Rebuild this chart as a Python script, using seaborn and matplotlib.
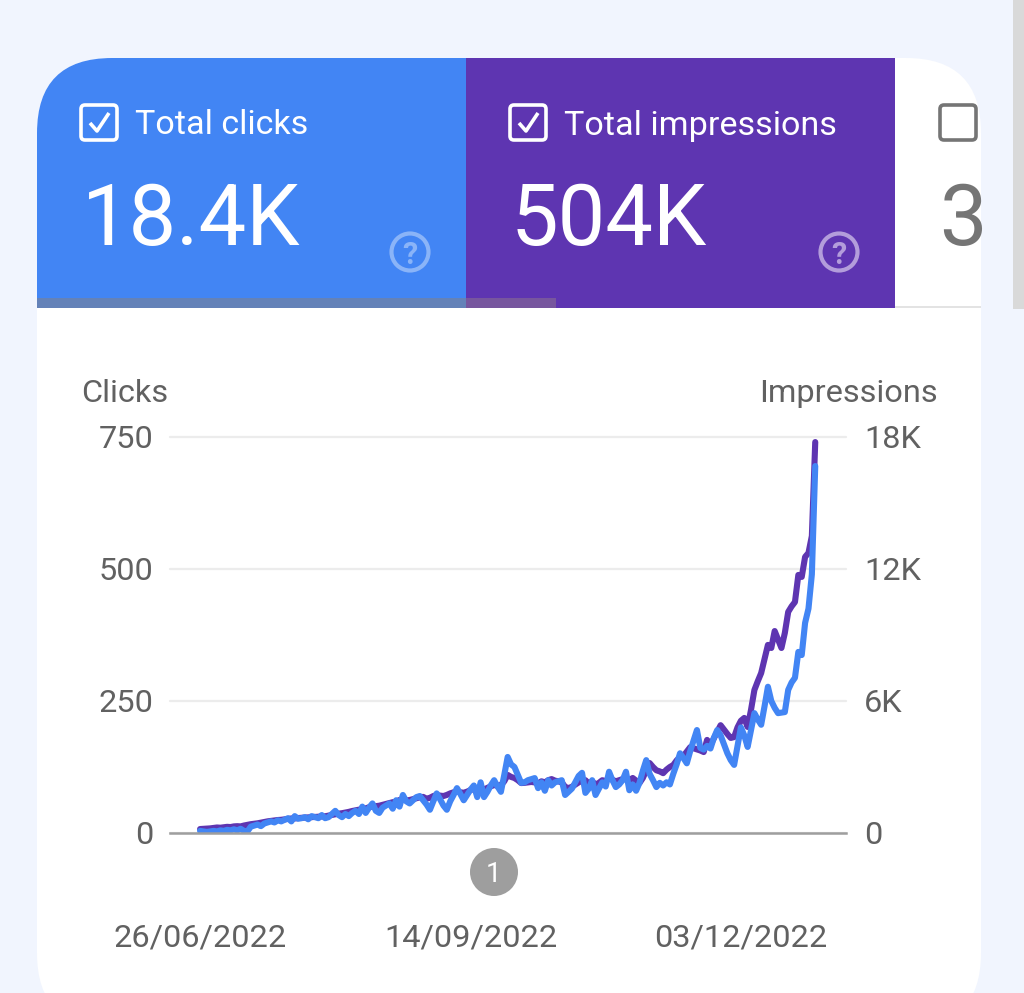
import pandas as pd
import seaborn as sns
import matplotlib.pyplot as plt
import matplotlib.dates as mdates
from matplotlib.patches import Rectangle, FancyBboxPatch, Circle

clicks = [
    4, 3, 2, 3, 4, 3, 5, 4, 6, 5,
    7, 5, 8, 4, 3, 12, 14, 16, 13, 18,
    20, 22, 20, 24, 22, 25, 28, 22, 32, 27,
    28, 30, 26, 32, 30, 28, 34, 28, 30, 36,
    42, 34, 30, 36, 32, 38, 42, 36, 50, 38,
    48, 56, 42, 38, 48, 52, 56, 46, 62, 50,
    72, 60, 56, 62, 68, 70, 62, 54, 44, 60,
    75, 64, 52, 44, 60, 72, 85, 74, 62, 72,
    82, 90, 68, 96, 68, 78, 90, 100, 88, 78,
    110, 144, 130, 125, 110, 95, 96, 100, 102, 104,
    85, 96, 80, 100, 90, 96, 98, 100, 72, 78,
    84, 96, 108, 114, 76, 84, 100, 72, 84, 96,
    88, 116, 100, 87, 92, 100, 116, 81, 92, 80,
    95, 118, 138, 112, 100, 87, 95, 90, 96, 92,
    112, 130, 151, 142, 132, 155, 175, 195, 161, 158,
    165, 160, 180, 195, 185, 168, 151, 138, 129, 165,
    200, 185, 163, 195, 227, 215, 205, 240, 277, 250,
    237, 227, 228, 229, 271, 285, 294, 343, 337, 398,
    425, 490, 695,
]
impressions = [
    180, 190, 200, 210, 230, 250, 240, 260, 280, 270,
    300, 310, 300, 340, 370, 400, 420, 440, 470, 500,
    530, 550, 570, 590, 600, 620, 640, 660, 660, 680,
    690, 700, 710, 720, 730, 740, 750, 760, 790, 820,
    850, 880, 900, 930, 960, 1000, 1030, 1060, 1090, 1120,
    1170, 1210, 1220, 1240, 1280, 1320, 1360, 1400, 1420, 1500,
    1520, 1480, 1500, 1540, 1580, 1620, 1640, 1560, 1600, 1680,
    1720, 1700, 1680, 1730, 1800, 1850, 1900, 1850, 1830, 1880,
    1950, 2000, 1920, 2080, 1980, 2050, 2120, 2180, 2150, 2180,
    2350, 2640, 2550, 2500, 2400, 2270, 2280, 2300, 2320, 2300,
    2250, 2350, 2300, 2400, 2450, 2380, 2350, 2300, 2100, 2040,
    2100, 2200, 2300, 2380, 2400, 2250, 2350, 2200, 2280, 2400,
    2350, 2500, 2420, 2350, 2400, 2450, 2520, 2400, 2500, 2380,
    2270, 2500, 2850, 3180, 3000, 2850, 2800, 2720, 2880, 3000,
    3090, 3300, 3450, 3500, 3700, 3900, 3850, 3800, 3750, 3680,
    4230, 4000, 4300, 4600, 4900, 4700, 4500, 4320, 4360, 4800,
    5100, 5230, 4820, 5600, 6500, 6900, 7270, 7900, 8550, 8410,
    9180, 8800, 8410, 9090, 10050, 10300, 10500, 11730, 11640, 12550,
    12730, 13500, 17770,
]
date_ticks = ["2022-06-26", "2022-09-14", "2022-12-03"]
click_ticks = [0, 250, 500, 750]
impression_ticks = [0, 6000, 12000, 18000]
impression_labels = ["0", "6K", "12K", "18K"]

BLUE = "#4285f4"
PURPLE = "#5e35b1"
GREY = "#616161"

sns.set_theme(style="white")
plt.rcParams["font.family"] = ["Roboto", "DejaVu Sans"]

df = pd.DataFrame({
    "date": pd.date_range("2022-06-26", periods=len(clicks), freq="D"),
    "clicks": clicks,
    "impressions": impressions,
})

fig = plt.figure(figsize=(10.24, 9.93), dpi=100, facecolor="#f1f5fe")

# page furniture, in pixel coordinates
bg = fig.add_axes([0, 0, 1, 1])
bg.set_xlim(0, 1024)
bg.set_ylim(993, 0)
bg.axis("off")

card = FancyBboxPatch((37, 58), 944, 970, boxstyle="round,pad=0,rounding_size=75",
                      fc="white", ec="none")
bg.add_patch(card)
bg.add_patch(Rectangle((1013, 0), 11, 309, fc="#d9d9d9", ec="none"))

for x, w, h, y, col in [
    (37, 429, 250, 58, BLUE),
    (466, 429, 250, 58, PURPLE),
    (37, 429, 10, 298, "#6482b8"),
    (466, 90, 10, 298, "#77569e"),
    (895, 86, 2, 306, "#e3e3e3"),
]:
    r = Rectangle((x, y), w, h, fc=col, ec="none")
    bg.add_patch(r)
    r.set_clip_path(card)


def checkbox(x, col, checked=True):
    bg.add_patch(FancyBboxPatch((x, 105), 36, 35, boxstyle="round,pad=0,rounding_size=4",
                                fc="none", ec=col, lw=2.6))
    if checked:
        bg.plot([x + 9, x + 16, x + 28], [123, 131, 113], color=col, lw=2.6,
                solid_capstyle="butt")


checkbox(81, "white")
checkbox(510, "white")
checkbox(940, "#757575", checked=False)

bg.text(135, 122, "Total clicks", color="white", fontsize=24.6, va="center_baseline")
bg.text(564, 122, "Total impressions", color="white", fontsize=24.6, va="center_baseline")
bg.text(82, 245, "18.4K", color="white", fontsize=61, va="baseline")
bg.text(511, 245, "504K", color="white", fontsize=61, va="baseline")
third = bg.text(939, 245, "3", color="#757575", fontsize=61, va="baseline")
third.set_clip_path(card)

for cx, col in [(410, "#8ab4f8"), (839, "#b39ddb")]:
    bg.add_patch(Circle((cx, 252), 18.5, fc="none", ec=col, lw=3))
    bg.text(cx, 252, "?", color=col, fontsize=22, fontweight="bold", ha="center",
            va="center_baseline")

bg.text(81, 390, "Clicks", color=GREY, fontsize=23.4, va="center_baseline")
bg.text(938, 390, "Impressions", color=GREY, fontsize=23.4, ha="right", va="center_baseline")

bg.add_patch(Circle((494, 872), 24, fc="#9e9e9e", ec="none"))
bg.text(494, 871, "1", color="white", fontsize=20, ha="center", va="center_baseline")

# chart, left axis on top so the blue line covers the purple one
ax = fig.add_axes([170 / 1024, (993 - 833) / 993, 676 / 1024, 396 / 993])
ax2 = ax.twinx()
ax.set_zorder(ax2.get_zorder() + 1)
ax.patch.set_visible(False)
ax2.patch.set_visible(False)

sns.lineplot(data=df, x="date", y="impressions", color=PURPLE, lw=4.4, ax=ax2,
             solid_joinstyle="round")
sns.lineplot(data=df, x="date", y="clicks", color=BLUE, lw=4.4, ax=ax,
             solid_joinstyle="round")

start = df["date"].iloc[0]
ax.set_xlim(start - pd.Timedelta(days=8.9), start + pd.Timedelta(days=191.1))
ax.set_ylim(0, 750)
ax2.set_ylim(0, 18000)

ax.set_xticks(pd.to_datetime(date_ticks))
ax.xaxis.set_major_formatter(mdates.DateFormatter("%d/%m/%Y"))
ax.set_yticks(click_ticks)
ax2.set_yticks(impression_ticks)
ax2.set_yticklabels(impression_labels)

ax.set_xlabel("")
ax.set_ylabel("")
ax2.set_ylabel("")
ax.tick_params(axis="x", length=0, pad=65, labelsize=23.4, labelcolor=GREY)
ax.tick_params(axis="y", length=0, pad=12, labelsize=23.4, labelcolor=GREY)
ax2.tick_params(axis="y", length=0, pad=13, labelsize=23.4, labelcolor=GREY)

ax.grid(False)
ax2.grid(axis="y", color="#ececec", lw=1.6, clip_on=False)
ax2.grid(axis="x", visible=False)
for a in (ax, ax2):
    for side in ["top", "left", "right", "bottom"]:
        a.spines[side].set_visible(False)
ax.spines["bottom"].set_visible(True)
ax.spines["bottom"].set_color("#9e9e9e")
ax.spines["bottom"].set_linewidth(1.8)

fig.savefig("out.png", dpi=100, facecolor=fig.get_facecolor())
